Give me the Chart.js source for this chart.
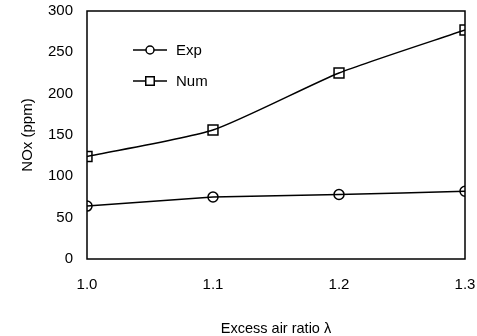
<!DOCTYPE html>
<html><head><meta charset="utf-8">
<script src="https://cdn.jsdelivr.net/npm/chart.js@4/dist/chart.umd.min.js"></script>
<style>html,body{margin:0;padding:0;background:#fff}</style>
</head><body>
<canvas id="c" width="477" height="336"></canvas>
<script>
const lambdaValues = [1.0, 1.1, 1.2, 1.3];
const expValues = [64, 75, 78, 82];
const numValues = [124, 156, 225, 277];
const xTicks = [1.0, 1.1, 1.2, 1.3];
const yTicks = [0, 50, 100, 150, 200, 250, 300];

const FONT = "'Liberation Sans', Arial, sans-serif";

const framePlugin = {
  id: 'frame',
  afterDraw(chart) {
    const {ctx, chartArea: a} = chart;
    ctx.save();
    ctx.strokeStyle = '#000';
    ctx.lineWidth = 1.5;
    ctx.strokeRect(a.left, a.top, a.right - a.left, a.bottom - a.top);
    const items = chart.data.datasets;
    const lx0 = 133, lx1 = 167, tx = 176;
    const ys = [50, 81];
    const radii = [4, 6];
    ctx.font = '15px ' + FONT;
    ctx.textBaseline = 'middle';
    items.forEach((ds, i) => {
      const y = ys[i];
      ctx.strokeStyle = '#000';
      ctx.beginPath();
      ctx.lineWidth = 1.5;
      ctx.moveTo(lx0, y); ctx.lineTo(lx1, y); ctx.stroke();
      ctx.fillStyle = '#fff';
      Chart.helpers.drawPoint(ctx, {pointStyle: ds.pointStyle, radius: radii[i], borderWidth: 1.5}, (lx0 + lx1) / 2, y);
      ctx.fillStyle = '#000';
      ctx.fillText(ds.label, tx, y + 1);
    });
    ctx.restore();
  }
};

new Chart(document.getElementById('c'), {
  type: 'line',
  data: {
    datasets: [
      { label: 'Exp', data: lambdaValues.map((x, i) => ({x, y: expValues[i]})),
        borderColor: '#000', borderWidth: 1.5, pointStyle: 'circle', pointRadius: 5,
        pointBackgroundColor: 'rgba(255,255,255,0)', pointBorderColor: '#000', pointBorderWidth: 1.5, tension: 0.1 },
      { label: 'Num', data: lambdaValues.map((x, i) => ({x, y: numValues[i]})),
        borderColor: '#000', borderWidth: 1.5, pointStyle: 'rect', pointRadius: 7,
        pointBackgroundColor: 'rgba(255,255,255,0)', pointBorderColor: '#000', pointBorderWidth: 1.5, tension: 0.2 }
    ]
  },
  options: {
    responsive: false,
    animation: false,
    layout: { padding: { top: 11, right: 12, left: 0, bottom: 0 } },
    plugins: { legend: { display: false }, tooltip: { enabled: false } },
    scales: {
      x: {
        type: 'linear', min: 1.0, max: 1.3,
        afterBuildTicks: s => { s.ticks = xTicks.map(v => ({value: v})); },
        afterFit: s => { s.height = 77; s.paddingLeft = 0; s.paddingRight = 0; },
        grid: { display: false, drawTicks: false },
        border: { display: false },
        ticks: { color: '#000', font: { family: FONT, size: 15 }, padding: 17,
                 callback: v => Number(v).toFixed(1) },
        title: { display: true, text: 'Excess air ratio λ', color: '#000',
                 font: { family: FONT, size: 14.5 }, padding: { top: 0, bottom: -2 } }
      },
      y: {
        min: 0, max: 300,
        afterBuildTicks: s => { s.ticks = yTicks.map(v => ({value: v})); },
        afterFit: s => { s.width = 87; s.paddingTop = 0; s.paddingBottom = 0; },
        grid: { display: false, drawTicks: false },
        border: { display: false },
        ticks: { color: '#000', font: { family: FONT, size: 15 }, padding: 14 },
        title: { display: true, text: 'NOx (ppm)', color: '#000',
                 font: { family: FONT, size: 15 }, padding: { top: 19, bottom: 0 } }
      }
    }
  },
  plugins: [framePlugin]
});
</script>
</body></html>
